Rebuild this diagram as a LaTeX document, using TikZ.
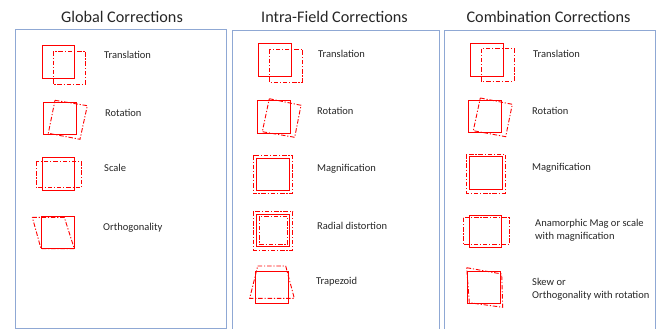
\documentclass[tikz,border=0pt]{standalone}
\usepackage{fontspec}
\setmainfont{Carlito}
\definecolor{panelblue}{RGB}{143,168,212}
\definecolor{shred}{RGB}{255,0,0}
\tikzset{
  panel/.style={draw=panelblue, line width=1pt},
  solidsq/.style={draw=shred, line width=1pt},
  dashsq/.style={draw=shred, line width=0.9pt, dash pattern=on 4.5pt off 1.8pt on 1.2pt off 1.8pt},
  title/.style={font=\fontsize{16.2}{19}\selectfont, text=black!85},
  lbl/.style={font=\fontsize{10.5}{12.8}\selectfont, text=black!85, anchor=west, inner sep=0pt, align=left}
}
\begin{document}
\begin{tikzpicture}[x=1pt,y=-1pt]
\useasboundingbox (0,0) rectangle (661,329);
\clip (0,0) rectangle (661,329);
% panels
\draw[panel] (15,30) rectangle (226,328);
\draw[panel] (232,31) rectangle (439,335);
\draw[panel] (444,31) rectangle (655,335);
% titles
\node[title] (t1) at (122,17) {Global Corrections};
\node[title] (t2) at (334.5,17) {Intra-Field Corrections};
\node[title] (t3) at (548.5,17) {Combination Corrections};

% ---------- Panel 1 ----------
\draw[solidsq] (42.3,45.7) rectangle (74.7,78.5);
\draw[dashsq] (53,51.3) rectangle (85.5,84.2);
\node[lbl] (g1) at (104,55) {Translation};

\draw[solidsq] (43.3,102.3) rectangle (76.3,134.7);
\draw[dashsq] (55,100.3) -- (87.3,105.7) -- (80,139.3) -- (48.3,133.3) -- cycle;
\node[lbl] (g2) at (105,112.7) {Rotation};

\draw[solidsq] (42.3,157.7) rectangle (74.7,190);
\draw[dashsq] (36,161.7) rectangle (81.7,187.3);
\node[lbl] (g3) at (104,168) {Scale};

\draw[solidsq] (41,216.7) rectangle (74.7,248.7);
\draw[dashsq] (32.3,217.3) -- (64.3,217.3) -- (74.3,248.7) -- (41,248.7) -- cycle;
\node[lbl] (g4) at (103,228) {Orthogonality};

% ---------- Panel 2 ----------
\draw[solidsq] (258.3,43.3) rectangle (291.3,76);
\draw[dashsq] (269,49.3) rectangle (302.3,82);
\node[lbl] (i1) at (318,54) {Translation};

\draw[solidsq] (257.7,100.3) rectangle (290.7,133.3);
\draw[dashsq] (269.3,98.7) -- (301,105.3) -- (294.7,137.3) -- (262.3,131.7) -- cycle;
\node[lbl] (i2) at (317,111) {Rotation};

\draw[solidsq] (256,158) rectangle (289,190.3);
\draw[dashsq] (253.3,155.3) rectangle (292,193.7);
\node[lbl] (i3) at (317,169) {Magnification};

\draw[solidsq] (256.7,214) rectangle (289.7,246.3);
\draw[dashsq] (253.3,211.7) rectangle (292.7,250);
\draw[dashsq] (259,216.5) rectangle (287.5,244);
\node[lbl] (i4) at (317,226) {Radial distortion};

\draw[solidsq] (255,271) rectangle (288.3,303.3);
\draw[dashsq] (257.7,266) -- (285.7,266) -- (294.3,298.3) -- (249.7,298.3) -- cycle;
\node[lbl] (i5) at (316,282) {Trapezoid};

% ---------- Panel 3 ----------
\draw[solidsq] (470.7,43.3) rectangle (503.3,76);
\draw[dashsq] (481.3,48.7) rectangle (514,81);
\node[lbl] (c1) at (533,54) {Translation};

\draw[solidsq] (468.7,100) rectangle (501,132.3);
\draw[dashsq] (480.3,98) -- (512.3,104.3) -- (505.7,136.7) -- (473.3,130.7) -- cycle;
\node[lbl] (c2) at (532,111) {Rotation};

\draw[solidsq] (469.7,156.7) rectangle (502.7,189.3);
\draw[dashsq] (466.3,154) rectangle (505.3,193);
\node[lbl] (c3) at (532,168) {Magnification};

\draw[solidsq] (469,215) rectangle (501,247);
\draw[dashsq] (463,217.7) rectangle (509.3,244.3);
\node[lbl] (c4) at (535,230.5) {Anamorphic Mag or scale\\with magnification};

\draw[solidsq] (467.7,271.7) rectangle (500.3,303.3);
\draw[dashsq] (466.7,267.7) -- (501.7,274) -- (502.7,307.3) -- (469.3,302.7) -- cycle;
\node[lbl] (c5) at (532,289) {Skew or\\Orthogonality with rotation};
\end{tikzpicture}
\end{document}
